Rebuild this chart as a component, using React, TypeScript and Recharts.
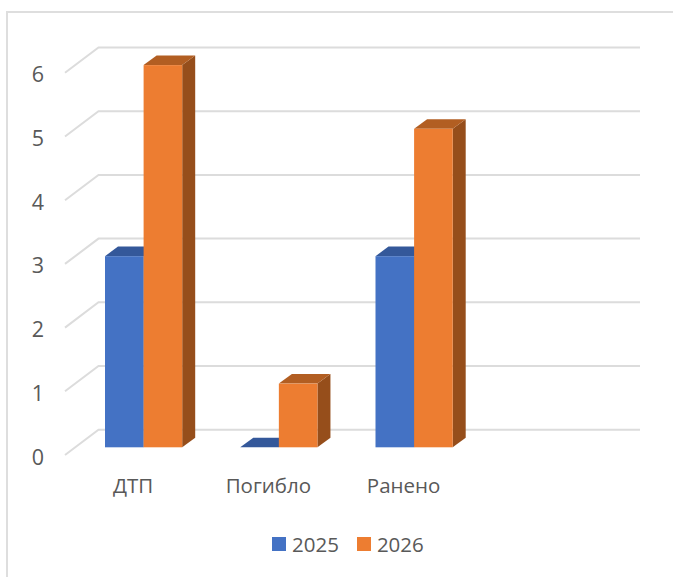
import { BarChart, Bar, XAxis, YAxis, CartesianGrid, Legend } from "recharts";

const categories = ["ДТП", "Погибло", "Ранено", ""];
const values2025 = [3, 0, 3, null];
const values2026 = [6, 1, 5, null];
const yTicks = [0, 1, 2, 3, 4, 5, 6];

const rows = categories.map((name, i) => ({ name, y2025: values2025[i], y2026: values2026[i] }));

const FONT = "'Open Sans', sans-serif";
const TEXT = "#595959";
const GRID = "#dcdcdc";
const BLUE = { front: "#4472c4", top: "#34589a", side: "#2f5290" };
const ORANGE = { front: "#ed7d31", top: "#b25e22", side: "#964e1b" };
const DEPTH_X = 13;
const DEPTH_Y = 9.6;

// front face plus top and side faces, so the flat bar still shows its top
function box3d(c: { front: string; top: string; side: string }) {
  return (p: any) => {
    if (p.value == null || (Array.isArray(p.value) && p.value[1] == null)) return <g />;
    const { x, y, width: w, height: h } = p;
    return (
      <g>
        <polygon
          points={`${x + w},${y} ${x + w + DEPTH_X},${y - DEPTH_Y} ${x + w + DEPTH_X},${y + h - DEPTH_Y} ${x + w},${y + h}`}
          fill={c.side}
        />
        <polygon
          points={`${x},${y} ${x + DEPTH_X},${y - DEPTH_Y} ${x + w + DEPTH_X},${y - DEPTH_Y} ${x + w},${y}`}
          fill={c.top}
        />
        <rect x={x} y={y} width={w} height={h} fill={c.front} />
      </g>
    );
  };
}

// each gridline runs along the side wall, then across the back wall
function gridLine(p: any) {
  const { x1, x2, y1 } = p;
  return (
    <polyline
      key={p.key ?? y1}
      points={`${x1 - 11},${y1 + 7.7} ${x1 + 22.5},${y1 - 17.6} ${x2 + 23},${y1 - 17.6}`}
      fill="none"
      stroke={GRID}
      strokeWidth={2}
    />
  );
}

function YTick(p: any) {
  return (
    <text x={38} y={p.y + 9.5} dy="0.36em" textAnchor="middle" fontFamily={FONT} fontSize={21.5} fill={TEXT}>
      {p.payload.value}
    </text>
  );
}

function XTick(p: any) {
  return (
    <text x={p.x - 10.5} y={486} dy="0.36em" textAnchor="middle" fontFamily={FONT} fontSize={20.5} fill={TEXT}>
      {p.payload.value}
    </text>
  );
}

function LegendBox(p: any) {
  return (
    <div style={{ display: "flex", fontFamily: FONT, fontSize: 20.5, color: TEXT, lineHeight: "24px" }}>
      {p.payload.map((item: any) => (
        <div key={item.value} style={{ display: "flex", alignItems: "center", marginRight: 18 }}>
          <span style={{ width: 14, height: 14, background: item.color, marginRight: 6 }} />
          {item.value}
        </div>
      ))}
    </div>
  );
}

export default function App() {
  return (
    <div style={{ position: "absolute", left: 0, top: 0, width: 673, height: 577, overflow: "hidden", background: "#fff" }}>
      <div
        style={{
          position: "absolute",
          left: 6,
          top: 11,
          width: 720,
          height: 620,
          border: "2px solid #dedede",
          boxSizing: "border-box",
        }}
      />
      <BarChart
        width={673}
        height={577}
        data={rows}
        barSize={38.6}
        barGap={0}
        margin={{ top: 65.1, right: 56, bottom: 99.7, left: 36 }}
        style={{ position: "absolute", left: 0, top: 0 }}
      >
        <CartesianGrid vertical={false} horizontal={gridLine} />
        <XAxis dataKey="name" interval={0} axisLine={false} tickLine={false} tick={XTick} height={30} />
        <YAxis domain={[0, 6]} ticks={yTicks} axisLine={false} tickLine={false} tick={YTick} width={40} />
        <Legend
          layout="horizontal"
          verticalAlign="middle"
          content={LegendBox}
          wrapperStyle={{ left: 272, top: 532, width: 200 }}
        />
        <Bar dataKey="y2025" name="2025" fill={BLUE.front} shape={box3d(BLUE)} isAnimationActive={false} />
        <Bar dataKey="y2026" name="2026" fill={ORANGE.front} shape={box3d(ORANGE)} isAnimationActive={false} />
      </BarChart>
    </div>
  );
}
